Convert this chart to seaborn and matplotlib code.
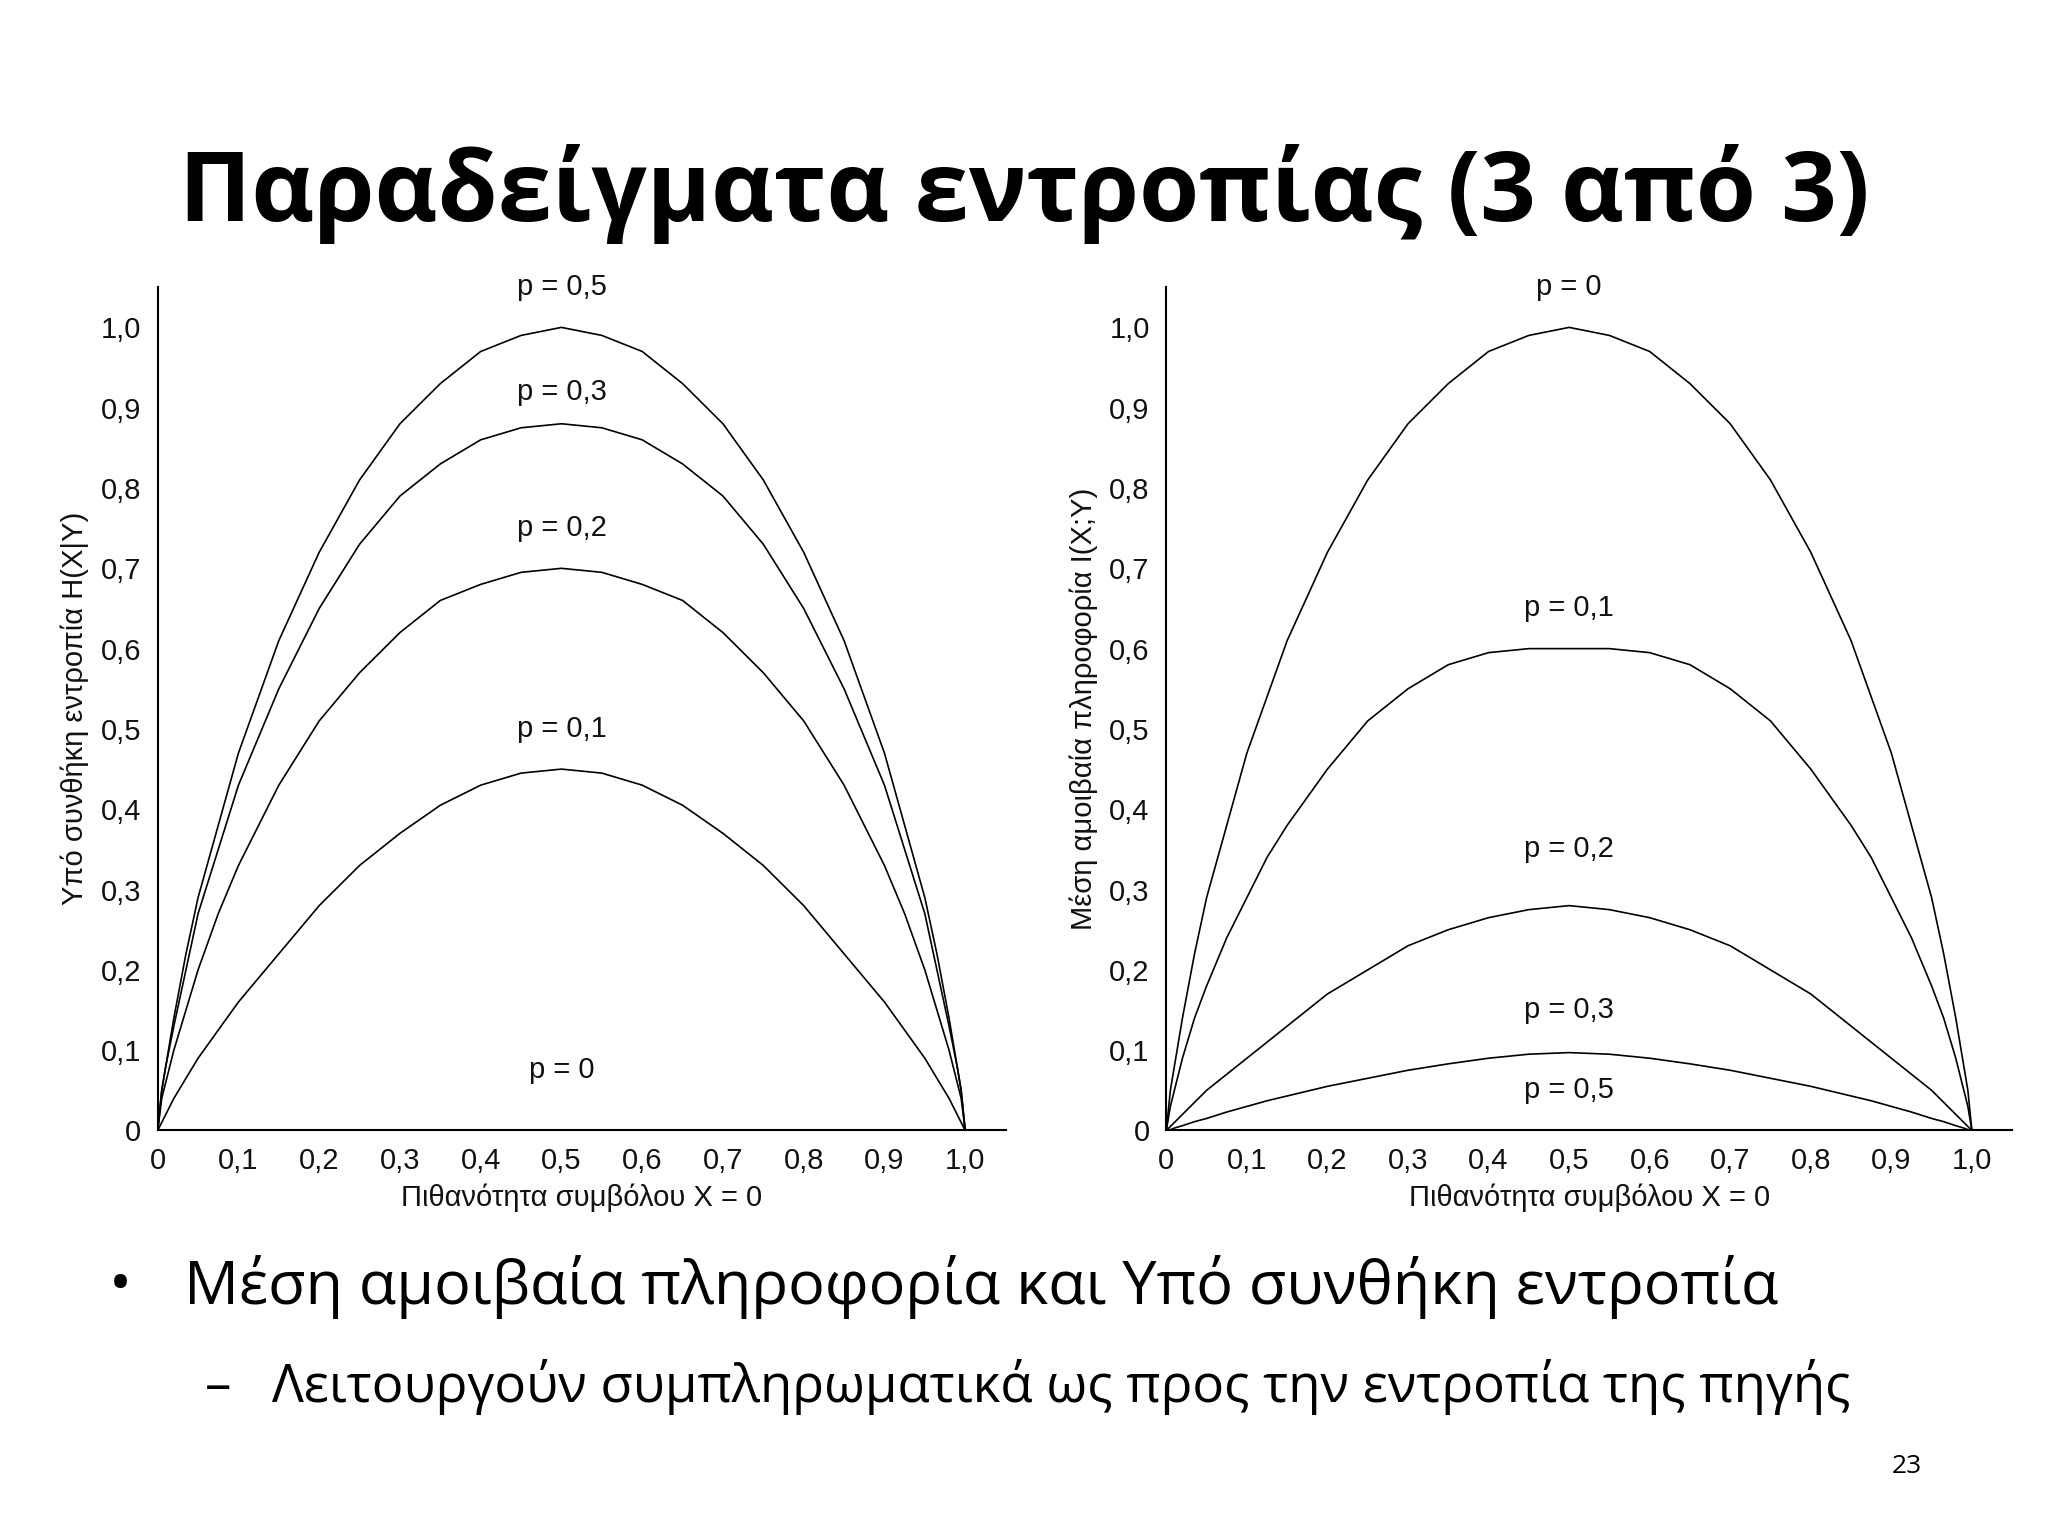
import numpy as np
import pandas as pd
import matplotlib.pyplot as plt
import seaborn as sns

sns.set_style("white")
plt.rcParams['font.family'] = ['Liberation Sans', 'DejaVu Sans']

# sample positions on the left half (curves are symmetric)
x_half = [0, 0.005, 0.01, 0.02, 0.035, 0.05, 0.075, 0.1, 0.125, 0.15, 0.2, 0.25, 0.3, 0.35, 0.4, 0.45, 0.5]

# left panel: conditional entropy H(X|Y)
h_p05 = [0, 0.05, 0.08, 0.14, 0.22, 0.29, 0.38, 0.47, 0.54, 0.61, 0.72, 0.81, 0.88, 0.93, 0.97, 0.99, 1.0]
h_p03 = [0, 0.05, 0.08, 0.13, 0.20, 0.27, 0.35, 0.43, 0.49, 0.55, 0.65, 0.73, 0.79, 0.83, 0.86, 0.875, 0.88]
h_p02 = [0, 0.04, 0.06, 0.10, 0.15, 0.20, 0.27, 0.33, 0.38, 0.43, 0.51, 0.57, 0.62, 0.66, 0.68, 0.695, 0.70]
h_p01 = [0, 0.01, 0.02, 0.04, 0.065, 0.09, 0.125, 0.16, 0.19, 0.22, 0.28, 0.33, 0.37, 0.405, 0.43, 0.445, 0.45]
h_p0 = [0] * 17

# right panel: mutual information I(X;Y)
i_p0 = h_p05
i_p01 = [0, 0.03, 0.05, 0.09, 0.14, 0.18, 0.24, 0.29, 0.34, 0.38, 0.45, 0.51, 0.55, 0.58, 0.595, 0.60, 0.60]
i_p02 = [0, 0.005, 0.01, 0.02, 0.035, 0.05, 0.07, 0.09, 0.11, 0.13, 0.17, 0.20, 0.23, 0.25, 0.265, 0.275, 0.28]
i_p03 = [0, 0.001, 0.003, 0.006, 0.011, 0.015, 0.023, 0.03, 0.037, 0.043, 0.055, 0.065, 0.075, 0.083, 0.09, 0.095, 0.097]
i_p05 = [0] * 17

def full(y_half):
    x = x_half + [1 - v for v in x_half[-2::-1]]
    y = list(y_half) + list(y_half[-2::-1])
    return x, y

left_curves = [h_p05, h_p03, h_p02, h_p01, h_p0]
left_labels = [("p = 0,5", 1.05), ("p = 0,3", 0.92), ("p = 0,2", 0.75), ("p = 0,1", 0.50), ("p = 0", 0.075)]
right_curves = [i_p0, i_p01, i_p02, i_p03, i_p05]
right_labels = [("p = 0", 1.05), ("p = 0,1", 0.65), ("p = 0,2", 0.35), ("p = 0,3", 0.15), ("p = 0,5", 0.05)]

ticks = [0, 0.1, 0.2, 0.3, 0.4, 0.5, 0.6, 0.7, 0.8, 0.9, 1.0]
tick_labels = ["0", "0,1", "0,2", "0,3", "0,4", "0,5", "0,6", "0,7", "0,8", "0,9", "1,0"]

fig = plt.figure(figsize=(20.48, 15.36), dpi=100)
ax1 = fig.add_axes([0.077, 0.264, 0.414, 0.549])
ax2 = fig.add_axes([0.5695, 0.264, 0.413, 0.549])

panels = [(ax1, left_curves, left_labels, "Υπό συνθήκη εντροπία H(X|Y)"),
          (ax2, right_curves, right_labels, "Μέση αμοιβαία πληροφορία I(X;Y)")]
for ax, curves, labels, ylab in panels:
    for c in curves:
        x, y = full(c)
        sns.lineplot(x=x, y=y, ax=ax, color='black', linewidth=1.2, sort=False)
    for text, yy in labels:
        ax.text(0.5, yy, text, ha='center', va='center', fontsize=21, color='#111111',
                clip_on=False)
    ax.set_xlim(0, 1.05)
    ax.set_ylim(0, 1.05)
    ax.set_xticks(ticks)
    ax.set_xticklabels(tick_labels)
    ax.set_yticks(ticks)
    ax.set_yticklabels(tick_labels)
    ax.tick_params(labelsize=21, colors='#111111', length=0, pad=12)
    ax.set_xlabel("Πιθανότητα συμβόλου X = 0", fontsize=21, color='#111111', labelpad=6)
    ax.set_ylabel(ylab, fontsize=21, color='#111111', labelpad=8)
    sns.despine(ax=ax)
    for s in ['left', 'bottom']:
        ax.spines[s].set_color('black')
        ax.spines[s].set_linewidth(1.5)

fam = ['Open Sans', 'DejaVu Sans']
fig.text(0.5, 0.874, "Παραδείγματα εντροπίας (3 από 3)", ha='center', va='center',
         fontsize=70, fontweight='bold', family=fam, color='black')
fig.text(0.053, 0.162, "•", ha='left', va='center', fontsize=44, family=fam, color='black')
fig.text(0.09, 0.162, "Μέση αμοιβαία πληροφορία και Υπό συνθήκη εντροπία", ha='left', va='center',
         fontsize=44, family=fam, color='black')
fig.text(0.10, 0.097, "–", ha='left', va='center', fontsize=38, family=fam, color='black')
fig.text(0.133, 0.097, "Λειτουργούν συμπληρωματικά ως προς την εντροπία της πηγής", ha='left',
         va='center', fontsize=38, family=fam, color='black')
fig.text(0.931, 0.045, "23", ha='center', va='center', fontsize=19, family=fam, color='black')

plt.savefig('out.png', dpi=100)
